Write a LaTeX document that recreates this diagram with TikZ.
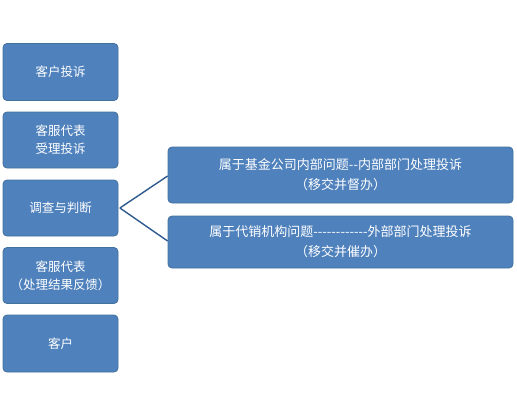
\documentclass[tikz,border=0pt]{standalone}
\usepackage{fontspec}
\newfontfamily\cjk{Noto Sans CJK SC}
\definecolor{boxfill}{HTML}{4F81BD}
\definecolor{boxedge}{HTML}{41719C}
\definecolor{linkc}{HTML}{2F5A8F}
\begin{document}
\begin{tikzpicture}[x=1pt,y=-1pt,
  box/.style={draw=boxedge,line width=0.8pt,fill=boxfill,rounded corners=4pt,text=white,
    font=\cjk\fontsize{12.5}{18}\selectfont,align=center,inner sep=0pt},
  wide/.style={box,minimum width=345pt,font=\cjk\fontsize{13}{20}\selectfont},
  link/.style={draw=linkc,line width=1.4pt}]
\useasboundingbox (0,0) rectangle (517,416);
\node[box,minimum width=115pt,minimum height=57pt] (b1) at (60.5,72) {客户投诉};
\node[box,minimum width=115pt,minimum height=56pt] (b2) at (60.5,140) {客服代表\\受理投诉};
\node[box,minimum width=115pt,minimum height=56pt] (b3) at (60.5,208) {调查与判断};
\node[box,minimum width=115pt,minimum height=56pt] (b4) at (60.5,275.5) {客服代表\\（处理结果反馈）};
\node[box,minimum width=115pt,minimum height=57pt] (b5) at (60.5,343.5) {客户};
\node[wide,minimum height=56pt] (r1) at (340.5,175) {属于基金公司内部问题--内部部门处理投诉\\（移交并督办）};
\node[wide,minimum height=52pt] (r2) at (340.5,242) {属于代销机构问题------------外部部门处理投诉\\（移交并催办）};
\draw[link] (b3.east) ++(1.5,0) coordinate (c) -- (r1.west |- 0,176);
\draw[link] (c) -- (r2.west |- 0,241);
\end{tikzpicture}
\end{document}
